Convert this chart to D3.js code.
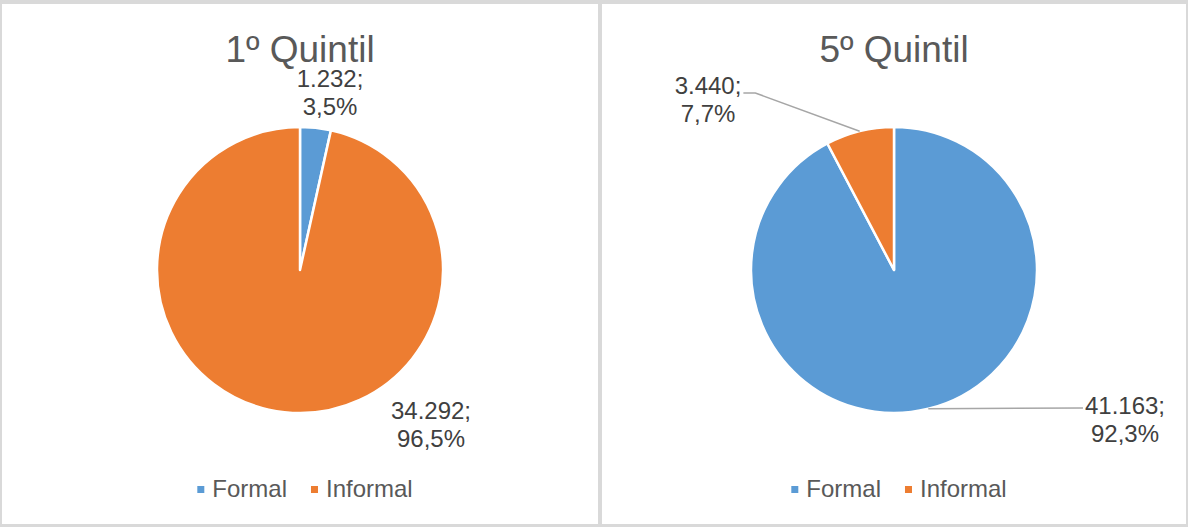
<!DOCTYPE html>
<html><head><meta charset="utf-8">
<script src="https://cdn.jsdelivr.net/npm/d3@7"></script>
<style>body{margin:0;background:#fff}svg{display:block}</style>
</head><body>
<svg id="c" width="1188" height="527"></svg>
<script>
const categories = ["Formal", "Informal"];
const titles = ["1º Quintil", "5º Quintil"];
const q1Values = [1232, 34292];
const q5Values = [41163, 3440];
const seriesValues = [q1Values, q5Values];
const colors = ["#5b9bd5", "#ed7d31"];

// label layout (offset of label block from pie centre), leader flag
const labelLayout = [
  [{dx: 30, dy: -183, leader: false}, {dx: 131, dy: 149, leader: false}],
  [{dx: 231, dy: 144, leader: true}, {dx: -186, dy: -176, leader: true}]
];

const W = 1188, H = 527;
const svg = d3.select("#c");
const font = "'Liberation Sans', Arial, sans-serif";
const loc = d3.formatLocale({decimal: ",", thousands: ".", grouping: [3], currency: ["", ""]});
const fmtN = loc.format(",d");
const fmtP = loc.format(".1%");

svg.append("rect").attr("width", W).attr("height", H).attr("fill", "#d9d9d9");
const panels = [{x0: 2, x1: 598}, {x0: 602, x1: 1186}];
panels.forEach(p => svg.append("rect").attr("x", p.x0).attr("y", 4)
  .attr("width", p.x1 - p.x0).attr("height", 520).attr("fill", "#fff"));

const centers = [300, 894];
const cy = 270, R = 143;
const pie = d3.pie().sort(null).value(d => d);
const arc = d3.arc().innerRadius(0).outerRadius(R);

seriesValues.forEach((vals, i) => {
  const cx = centers[i];
  const g = svg.append("g");
  const total = d3.sum(vals);
  g.append("text").attr("x", cx).attr("y", 62).attr("text-anchor", "middle")
    .attr("font-family", font).attr("font-size", 37).attr("fill", "#595959").text(titles[i]);

  const pg = g.append("g").attr("transform", `translate(${cx},${cy})`);
  const arcs = pie(vals);
  pg.selectAll("path").data(arcs).join("path")
    .attr("d", arc).attr("fill", (d, j) => colors[j])
    .attr("stroke", "#fff").attr("stroke-width", 2.5).attr("stroke-linejoin", "round");

  arcs.forEach((a, j) => {
    const L = labelLayout[i][j];
    const lx = L.dx, ly = L.dy;
    const t = pg.append("text").attr("text-anchor", "middle").attr("font-family", font)
      .attr("font-size", 24).attr("fill", "#404040");
    const s1 = t.append("tspan").attr("x", lx).attr("y", ly).text(fmtN(a.data) + ";");
    t.append("tspan").attr("x", lx).attr("y", ly + 28).text(fmtP(a.data / total));
    if (L.leader) {
      const mid = (a.startAngle + a.endAngle) / 2;
      const px = Math.sin(mid) * R, py = -Math.cos(mid) * R;
      const w1 = s1.node().getComputedTextLength();
      let pts;
      if (lx > px) {
        const ex = lx - w1 / 2 - 2, ey = ly - 6;
        pts = [[px, py], [ex, ey]];
      } else {
        const ex = lx + w1 / 2 + 2, ey = ly - 1;
        pts = [[px, py], [ex + 12, ey], [ex, ey]];
      }
      pg.append("path").attr("d", d3.line()(pts)).attr("fill", "none")
        .attr("stroke", "#a6a6a6").attr("stroke-width", 1.5);
    }
  });

  // legend
  const lg = g.append("g");
  let x = 0;
  categories.forEach((c, j) => {
    lg.append("rect").attr("x", x).attr("y", -11).attr("width", 7).attr("height", 7).attr("fill", colors[j]);
    const tt = lg.append("text").attr("x", x + 15).attr("y", 0).attr("font-family", font)
      .attr("font-size", 24).attr("fill", "#595959").text(c);
    x += 15 + tt.node().getComputedTextLength() + 24;
  });
  const lw = x - 24;
  lg.attr("transform", `translate(${cx + 5 - lw / 2},497)`);
});
</script>
</body></html>
